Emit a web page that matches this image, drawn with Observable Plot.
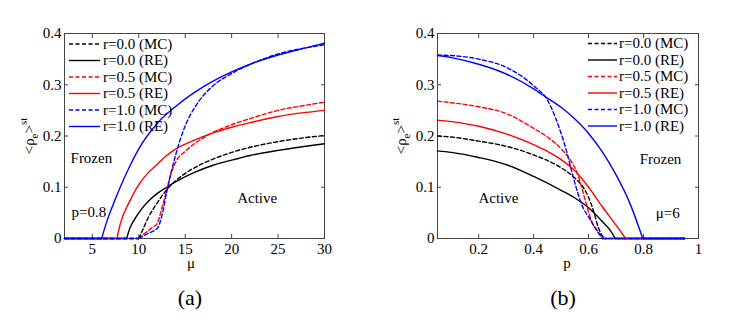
<!DOCTYPE html>
<html><head><meta charset="utf-8">
<script src="https://cdn.jsdelivr.net/npm/d3@7"></script>
<script src="https://cdn.jsdelivr.net/npm/@observablehq/plot@0.6"></script>
<style>
body{margin:0;background:#fff;}
#wrap{position:relative;width:747px;height:328px;font-family:"Times New Roman",Times,"Liberation Serif","DejaVu Serif",serif;background:#fff;overflow:hidden;}
.panel{position:absolute;top:0;}
.cap{position:absolute;top:283px;font-size:22px;width:60px;text-align:center;line-height:30px;color:#000;font-family:"Times New Roman",Times,"Liberation Serif","DejaVu Serif",serif;}
</style></head><body><div id="wrap"></div>
<script>
// ---- legend / series ----
const seriesLabels = ["r=0.0 (MC)", "r=0.0 (RE)", "r=0.5 (MC)", "r=0.5 (RE)", "r=1.0 (MC)", "r=1.0 (RE)"];
const seriesColors = ["#000000", "#000000", "#ff0000", "#ff0000", "#0000ff", "#0000ff"];
const seriesDashed = [true, false, true, false, true, false];

// ---- panel (a): rho vs mu, p = 0.8 ----
const mu_r00_MC = [2,10,10.5,11,11.5,12,12.5,13,14,15,16,18,20,22,25,28,30];
const rhoA_r00_MC = [0,0,0.02,0.04,0.056,0.07,0.083,0.095,0.113,0.127,0.138,0.155,0.168,0.178,0.189,0.197,0.201];
const mu_r00_RE = [2,8.7,9,9.5,10,11,12,13,14,16,18,20,22,25,28,30];
const rhoA_r00_RE = [0,0,0.018,0.036,0.05,0.072,0.088,0.1,0.111,0.129,0.143,0.153,0.162,0.172,0.18,0.185];
const mu_r05_MC = [2,10,10.5,11,11.5,12,12.5,13,13.5,14,15,16,17,18,20,22,25,28,30];
const rhoA_r05_MC = [0,0,0.008,0.015,0.022,0.03,0.06,0.095,0.128,0.15,0.17,0.185,0.197,0.207,0.222,0.234,0.25,0.26,0.266];
const mu_r05_RE = [2,7.65,8,9,10,11,12,13,14,16,18,20,22,25,28,30];
const rhoA_r05_RE = [0,0,0.028,0.072,0.105,0.128,0.145,0.162,0.175,0.192,0.206,0.217,0.226,0.238,0.246,0.25];
const mu_r10_MC = [2,10,11,12,12.5,13,13.5,14,14.5,15,16,17,18,20,22,25,28,30];
const rhoA_r10_MC = [0,0,0.01,0.02,0.045,0.09,0.13,0.165,0.195,0.22,0.255,0.28,0.298,0.322,0.34,0.36,0.372,0.378];
const mu_r10_RE = [2,6,6.5,7,8,9,10,12,14,16,18,20,22,25,28,30];
const rhoA_r10_RE = [0,0,0.03,0.055,0.1,0.14,0.175,0.225,0.258,0.285,0.307,0.325,0.34,0.358,0.372,0.381];

// ---- panel (b): rho vs p, mu = 6 ----
const p_r00_MC = [0.05,0.1,0.2,0.3,0.4,0.5,0.55,0.58,0.6,0.62,0.635,0.65,0.66,0.95];
const rhoB_r00_MC = [0.2,0.198,0.19,0.18,0.163,0.138,0.118,0.1,0.08,0.05,0.022,0.005,0,0];
const p_r00_RE = [0.05,0.1,0.2,0.3,0.4,0.5,0.55,0.6,0.65,0.68,0.697,0.95];
const rhoB_r00_RE = [0.171,0.168,0.158,0.144,0.121,0.094,0.079,0.06,0.033,0.015,0,0];
const p_r05_MC = [0.05,0.1,0.2,0.3,0.4,0.45,0.5,0.535,0.56,0.585,0.61,0.63,0.65,0.95];
const rhoB_r05_MC = [0.268,0.265,0.257,0.244,0.215,0.198,0.175,0.152,0.126,0.08,0.035,0.015,0,0];
const p_r05_RE = [0.05,0.1,0.2,0.3,0.4,0.45,0.5,0.55,0.6,0.65,0.7,0.735,0.95];
const rhoB_r05_RE = [0.231,0.228,0.219,0.204,0.183,0.17,0.154,0.132,0.1,0.062,0.026,0,0];
const p_r10_MC = [0.05,0.1,0.2,0.3,0.4,0.45,0.48,0.5,0.52,0.54,0.56,0.58,0.6,0.62,0.64,0.65,0.95];
const rhoB_r10_MC = [0.358,0.357,0.35,0.334,0.298,0.27,0.235,0.205,0.17,0.128,0.09,0.06,0.042,0.024,0.009,0,0];
const p_r10_RE = [0.05,0.1,0.2,0.3,0.4,0.45,0.5,0.55,0.6,0.65,0.7,0.75,0.797,0.95];
const rhoB_r10_RE = [0.357,0.353,0.34,0.321,0.292,0.274,0.256,0.233,0.205,0.169,0.124,0.069,0,0];

// ---- ticks ----
const yTicks = [0, 0.1, 0.2, 0.3, 0.4];
const xTicksA = [5, 10, 15, 20, 25, 30];
const xTicksB = [0.2, 0.4, 0.6, 0.8, 1];
const xDomainA = [2, 30];
const xDomainB = [0.05, 1];
const yDomain = [0, 0.4];

// ---- annotations ----
const notesA = [{t:"Frozen", x:2.65, y:0.157}, {t:"Active", x:20.6, y:0.079}, {t:"p=0.8", x:2.75, y:0.051}];
const notesB = [{t:"Frozen", x:0.786, y:0.155}, {t:"Active", x:0.199, y:0.079}, {t:"\u03bc=6", x:0.844, y:0.049}];

const FONT = "'Times New Roman', Times, 'Liberation Serif', 'DejaVu Serif', serif";
const wrap = document.getElementById("wrap");

// split a series into flat (zero) runs and curved runs so the curve can be smoothed
function segments(xArr, yArr, key) {
  const rows = [];
  let seg = 0, prevFlat = null;
  for (let i = 0; i < xArr.length - 1; i++) {
    const flat = yArr[i] === 0 && yArr[i + 1] === 0;
    if (prevFlat === null || flat !== prevFlat) {
      seg++;
      rows.push({x: xArr[i], y: yArr[i], z: key + "-" + seg});
    }
    rows.push({x: xArr[i + 1], y: yArr[i + 1], z: key + "-" + seg});
    prevFlat = flat;
  }
  return rows;
}

function makePanel({left, width, mLeft, mRight, xDomain, xTicks, xFmt, xs, ys, notes, xLabel, xLabelX, yLabelX, legend}) {
  const marks = [];
  xs.forEach((xArr, k) => {
    const rows = segments(xArr, ys[k], "s" + k);
    marks.push(Plot.line(rows, {x: "x", y: "y", z: "z", stroke: seriesColors[k], strokeWidth: 1.4,
      strokeDasharray: seriesDashed[k] ? "4,2.5" : null, curve: "monotone-x"}));
  });
  const chart = Plot.plot({
    width, height: 275,
    marginLeft: mLeft, marginRight: mRight, marginTop: 33, marginBottom: 37,
    x: {domain: xDomain},
    y: {domain: yDomain},
    style: {fontFamily: FONT, fontSize: "15px", background: "white", color: "#000"},
    marks: [
      Plot.frame({stroke: "#444", strokeWidth: 1}),
      Plot.axisX(xTicks, {anchor: "bottom", tickSize: -4, fill: "none", stroke: "#444", label: null}),
      Plot.axisX(xTicks, {anchor: "top", tickSize: -4, fill: "none", stroke: "#444", label: null}),
      Plot.axisY(yTicks, {anchor: "left", tickSize: -4, fill: "none", stroke: "#444", label: null}),
      Plot.axisY(yTicks, {anchor: "right", tickSize: -4, fill: "none", stroke: "#444", label: null}),
      Plot.axisX(xTicks, {anchor: "bottom", tickSize: 0, tickPadding: 5, stroke: "none", label: null, tickFormat: xFmt, fill: "#000"}),
      Plot.axisY(yTicks, {anchor: "left", tickSize: 0, tickPadding: 3, stroke: "none", label: null,
        tickFormat: d => d === 0 ? "0" : d3.format(".1f")(d), fill: "#000"}),
      ...marks,
      Plot.text(notes, {x: "x", y: "y", text: "t", textAnchor: "start", fontSize: 15, fill: "#000"})
    ]
  });
  const svg = d3.select(chart);
  // x-axis label
  svg.append("text").attr("x", xLabelX).attr("y", 268).attr("text-anchor", "middle")
    .attr("font-size", 15).style("font-family", FONT).attr("fill", "#000").text(xLabel);
  // y-axis label <rho_e>^st
  const yl = svg.append("text").attr("transform", `translate(${yLabelX},136) rotate(-90)`)
    .attr("text-anchor", "middle").attr("font-size", 15).style("font-family", FONT).attr("fill", "#000");
  yl.append("tspan").text("<\u03c1");
  yl.append("tspan").attr("dy", 4).attr("font-size", 11).text("e");
  yl.append("tspan").attr("dy", -4).text(">");
  yl.append("tspan").attr("dy", -7).attr("font-size", 11).text("st");
  // legend
  const g = svg.append("g").style("font-family", FONT).attr("font-size", 15).attr("text-anchor", "start");
  seriesLabels.forEach((lab, k) => {
    const y = legend.y0 + k * legend.dy;
    g.append("line").attr("x1", legend.x1).attr("x2", legend.x2).attr("y1", y).attr("y2", y)
      .attr("stroke", seriesColors[k]).attr("stroke-width", 1.4)
      .attr("stroke-dasharray", seriesDashed[k] ? "4,2.5" : null);
    g.append("text").attr("x", legend.tx).attr("y", y).attr("dy", "0.33em")
      .attr("text-anchor", "start").attr("fill", "#000").text(lab);
  });
  const div = document.createElement("div");
  div.className = "panel";
  div.style.left = left + "px";
  div.appendChild(chart);
  wrap.appendChild(div);
}

makePanel({
  left: 0, width: 373, mLeft: 64, mRight: 49,
  xDomain: xDomainA, xTicks: xTicksA, xFmt: d => String(d),
  xs: [mu_r00_MC, mu_r00_RE, mu_r05_MC, mu_r05_RE, mu_r10_MC, mu_r10_RE],
  ys: [rhoA_r00_MC, rhoA_r00_RE, rhoA_r05_MC, rhoA_r05_RE, rhoA_r10_MC, rhoA_r10_RE],
  notes: notesA, xLabel: "\u03bc", xLabelX: 191, yLabelX: 34,
  legend: {x1: 69, x2: 100, tx: 103, y0: 44, dy: 16.5}
});
makePanel({
  left: 373, width: 374, mLeft: 64, mRight: 49,
  xDomain: xDomainB, xTicks: xTicksB, xFmt: d => d === 1 ? "1" : d3.format(".1f")(d),
  xs: [p_r00_MC, p_r00_RE, p_r05_MC, p_r05_RE, p_r10_MC, p_r10_RE],
  ys: [rhoB_r00_MC, rhoB_r00_RE, rhoB_r05_MC, rhoB_r05_RE, rhoB_r10_MC, rhoB_r10_RE],
  notes: notesB, xLabel: "p", xLabelX: 194, yLabelX: 33,
  legend: {x1: 215, x2: 244, tx: 246, y0: 43.5, dy: 16.5}
});

const capA = document.createElement("div"); capA.className = "cap"; capA.style.left = "160px"; capA.textContent = "(a)"; wrap.appendChild(capA);
const capB = document.createElement("div"); capB.className = "cap"; capB.style.left = "533px"; capB.textContent = "(b)"; wrap.appendChild(capB);
</script>
</body></html>
